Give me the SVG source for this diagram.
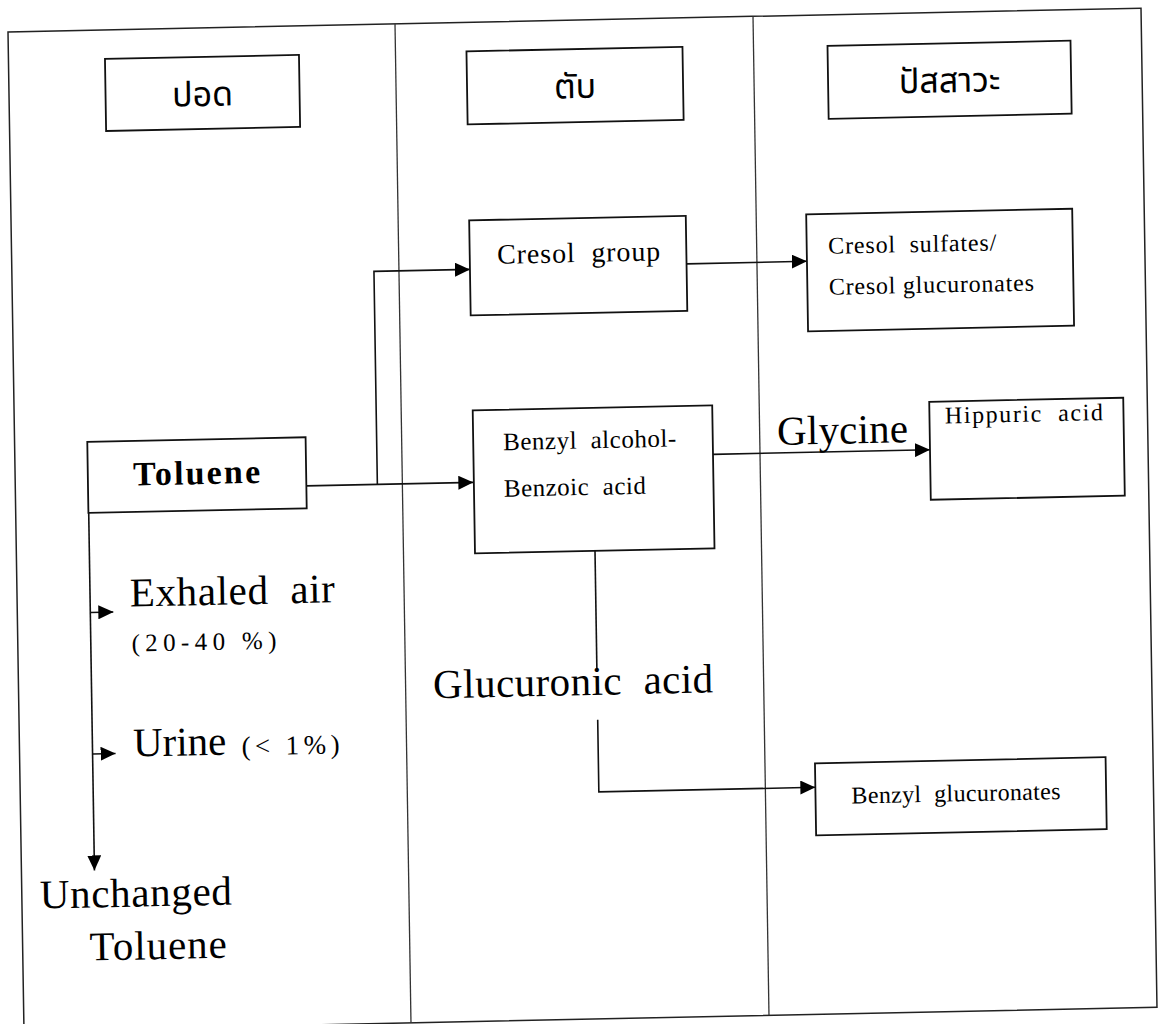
<svg xmlns="http://www.w3.org/2000/svg" width="1158" height="1024" viewBox="0 0 1158 1024">
<defs>
<marker id="arr" markerWidth="15" markerHeight="14" refX="15" refY="7" orient="auto" markerUnits="userSpaceOnUse"><path d="M0,0 L15,7 L0,14 z" fill="#000"/></marker>
<style>
.box{fill:#fff;stroke:#111;stroke-width:1.8}
.frame{fill:none;stroke:#222;stroke-width:1.5}
.div{stroke:#333;stroke-width:1.3}
.conn{fill:none;stroke:#111;stroke-width:1.6}
.th{font-family:"Noto Sans Thai","Noto Sans",sans-serif;font-size:34px;fill:#000;text-anchor:middle}
.en{font-family:"Liberation Serif","Times New Roman",serif;fill:#000}
.big{font-size:41px}
.mid{font-size:25px}
.sm{font-size:24px}
</style>
</defs>
<rect width="1158" height="1024" fill="#fff"/>
<g transform="matrix(1 -0.021 0.016 1 8 32)">
  <g id="frame">
    <rect class="frame" x="0" y="0" width="1133" height="999"/>
    <line class="div" x1="387" y1="0" x2="387" y2="999"/>
    <line class="div" x1="745" y1="0" x2="745" y2="999"/>
  </g>
  <g id="connectors">
    <path class="conn" d="M291,460 H458" marker-end="url(#arr)"/>
    <path class="conn" d="M362,460 V247 H458" marker-end="url(#arr)"/>
    <path class="conn" d="M675,246 H795" marker-end="url(#arr)"/>
    <path class="conn" d="M698,437 H915" marker-end="url(#arr)"/>
    <path class="conn" d="M578.5,531 V650"/>
    <path class="conn" d="M578.5,700 V772 H795" marker-end="url(#arr)"/>
    <path class="conn" d="M73,482 V840" marker-end="url(#arr)"/>
    <path class="conn" d="M73,582 H96" marker-end="url(#arr)"/>
    <path class="conn" d="M73,723.5 H96" marker-end="url(#arr)"/>
  </g>
  <g id="header-lung">
    <rect class="box" x="96.5" y="29" width="194" height="72"/>
    <text class="th" x="193.5" y="78">ปอด</text>
  </g>
  <g id="header-liver">
    <rect class="box" x="458" y="29" width="216" height="73"/>
    <text class="th" x="566" y="78">ตับ</text>
  </g>
  <g id="header-urine">
    <rect class="box" x="819" y="31" width="243" height="73"/>
    <text class="th" x="940.5" y="80">ปัสสาวะ</text>
  </g>
  <g id="toluene">
    <rect class="box" x="72.7" y="411.4" width="218.3" height="71"/>
    <text class="en" x="118" y="456" font-size="34" font-weight="bold" textLength="127">Toluene</text>
  </g>
  <g id="cresol-group">
    <rect class="box" x="458" y="198" width="216.6" height="95"/>
    <text class="en" x="485.4" y="242" font-size="28" textLength="163" xml:space="preserve">Cresol  group</text>
  </g>
  <g id="benzyl-alcohol">
    <rect class="box" x="458.5" y="388" width="239.5" height="143"/>
    <text class="en mid" x="488.4" y="428.4" textLength="173" xml:space="preserve">Benzyl  alcohol-</text>
    <text class="en mid" x="488.4" y="475" textLength="142" xml:space="preserve">Benzoic  acid</text>
  </g>
  <g id="cresol-sulfates">
    <rect class="box" x="795" y="199" width="266" height="117"/>
    <text class="en sm" x="816.5" y="239" textLength="168" xml:space="preserve">Cresol  sulfates/</text>
    <text class="en sm" x="816.5" y="280" textLength="205">Cresol glucuronates</text>
  </g>
  <g id="hippuric-acid">
    <rect class="box" x="915" y="389" width="194" height="98"/>
    <text class="en sm" x="930.4" y="411" textLength="158" xml:space="preserve">Hippuric  acid</text>
  </g>
  <g id="benzyl-glucuronates">
    <rect class="box" x="795" y="748" width="290.6" height="72"/>
    <text class="en sm" x="831" y="789" textLength="209" xml:space="preserve">Benzyl  glucuronates</text>
  </g>
  <g id="exhaled-air">
    <text class="en big" x="112.8" y="577" textLength="205" xml:space="preserve">Exhaled  air</text>
    <text class="en" x="113.7" y="622" font-size="25" textLength="145">(20-40 %)</text>
  </g>
  <g id="urine">
    <text class="en big" x="113.7" y="727" textLength="93">Urine</text>
    <text class="en" x="222" y="728" font-size="27" textLength="98">(&lt; 1%)</text>
  </g>
  <g id="unchanged-toluene">
    <text class="en big" x="18" y="877" textLength="192">Unchanged</text>
    <text class="en big" x="67" y="930" textLength="137">Toluene</text>
  </g>
  <g id="glycine">
    <text class="en big" x="762.4" y="429" textLength="131">Glycine</text>
  </g>
  <g id="glucuronic-acid">
    <text class="en big" x="414.5" y="675" textLength="280" xml:space="preserve">Glucuronic  acid</text>
  </g>
</g>
</svg>
